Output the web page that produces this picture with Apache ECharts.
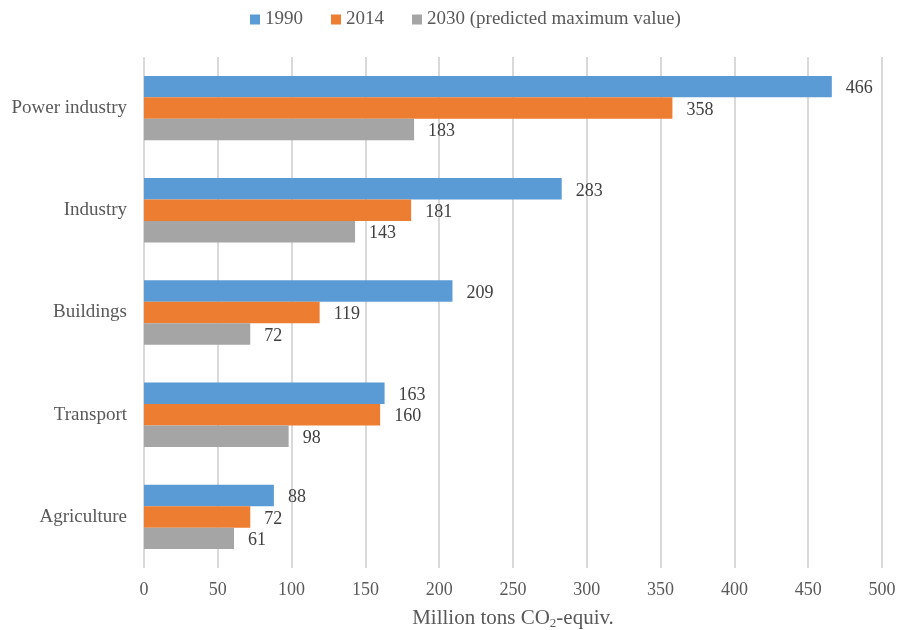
<!DOCTYPE html>
<html>
<head>
<meta charset="utf-8">
<script src="https://cdn.jsdelivr.net/npm/echarts@6/dist/echarts.min.js"></script>
<style>
html,body{margin:0;padding:0;background:#fff;}
#chart{width:898px;height:630px;}
</style>
</head>
<body>
<div id="chart"></div>
<script>
// Sector categories (listed bottom to top for the category axis)
const sectors = ['Agriculture', 'Transport', 'Buildings', 'Industry', 'Power industry'];
const seriesNames = ['1990', '2014', '2030 (predicted maximum value)'];
const values1990 = [88, 163, 209, 283, 466];
const values2014 = [72, 160, 119, 181, 358];
const values2030 = [61, 98, 72, 143, 183];
const xTicks = [0, 50, 100, 150, 200, 250, 300, 350, 400, 450, 500];

const colors = ['#5B9BD5', '#ED7D31', '#A5A5A5'];
const serif = '"Liberation Serif", "Times New Roman", serif';

const chart = echarts.init(document.getElementById('chart'));

function barSeries(name, data, color) {
  return {
    name: name,
    type: 'bar',
    data: data,
    barGap: '0%',
    barCategoryGap: '37%',
    itemStyle: { color: color },
    label: {
      show: true,
      position: 'right',
      distance: 14,
      offset: [0, 2],
      color: '#404040',
      fontFamily: serif,
      fontSize: 18
    }
  };
}

chart.setOption({
  animation: false,
  textStyle: { fontFamily: serif },
  legend: {
    top: 5,
    left: 245,
    itemWidth: 10,
    itemHeight: 10,
    itemGap: 28,
    icon: 'rect',
    textStyle: { color: '#595959', fontSize: 19, fontFamily: serif },
    data: seriesNames
  },
  grid: {
    left: 144, right: 16, top: 57, bottom: 62,
    containLabel: false,
    outerBoundsMode: 'none'
  },
  xAxis: {
    type: 'value',
    min: xTicks[0],
    max: xTicks[xTicks.length - 1],
    interval: 50,
    axisLine: { show: false },
    axisTick: { show: false },
    splitLine: { show: true, lineStyle: { color: '#D9D9D9', width: 2 } },
    axisLabel: { color: '#595959', fontSize: 18, fontFamily: serif, margin: 13 },
    name: '{t|Million tons CO}{s|2}{t|-equiv.}',
    nameLocation: 'middle',
    nameGap: 39,
    nameTextStyle: {
      rich: {
        t: { color: '#595959', fontSize: 21, fontFamily: serif },
        s: { color: '#595959', fontSize: 13, fontFamily: serif, padding: [10, 0, 0, 0] }
      }
    }
  },
  yAxis: {
    type: 'category',
    data: sectors,
    axisLine: { show: false },
    axisTick: { show: false },
    splitLine: { show: false },
    axisLabel: { color: '#595959', fontSize: 19, fontFamily: serif, margin: 17 }
  },
  series: [
    barSeries(seriesNames[0], values1990, colors[0]),
    barSeries(seriesNames[1], values2014, colors[1]),
    barSeries(seriesNames[2], values2030, colors[2])
  ]
});
</script>
</body>
</html>
